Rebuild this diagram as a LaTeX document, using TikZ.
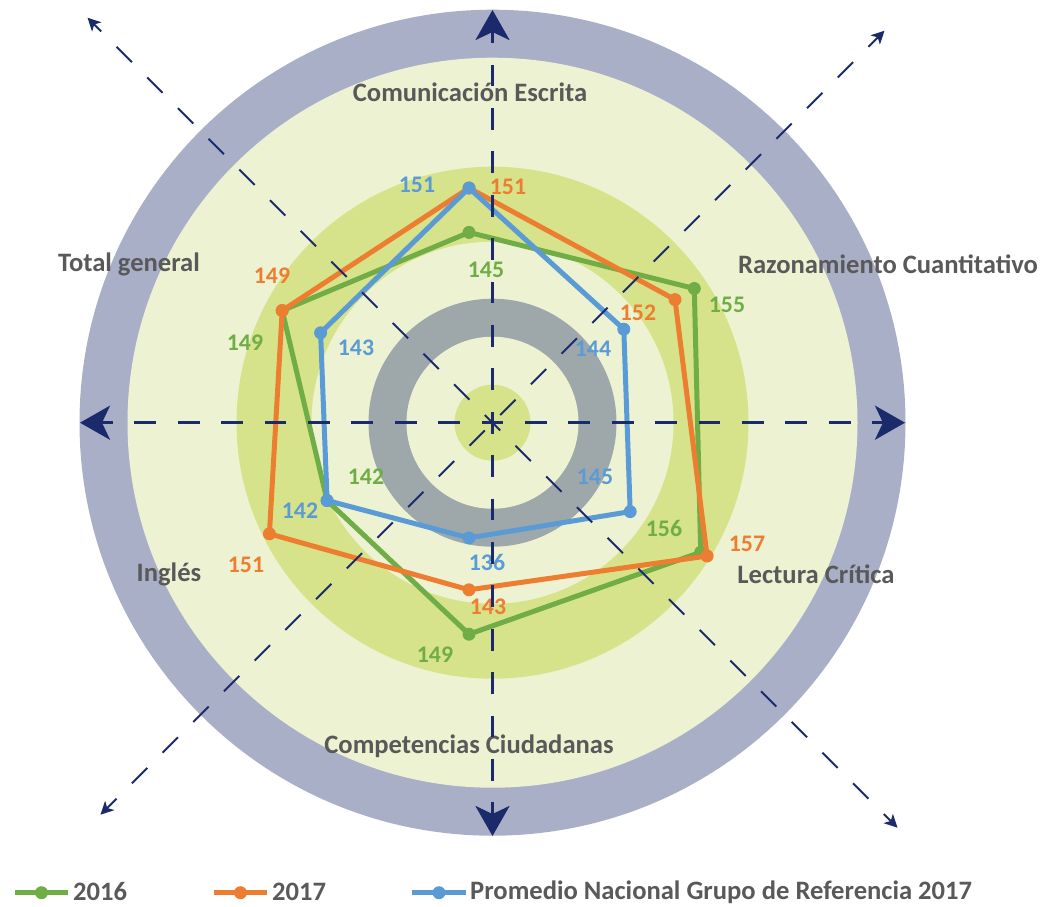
\documentclass[tikz,border=0pt]{standalone}
\usepackage{fontspec}
\setmainfont{Carlito}
\usetikzlibrary{arrows.meta}
\definecolor{lav}{HTML}{AAAFC8}
\definecolor{lgreen}{HTML}{EDF3D2}
\definecolor{mgreen}{HTML}{D7E38A}
\definecolor{ringgray}{HTML}{9EA8AA}
\definecolor{navy}{HTML}{1B2A6B}
\definecolor{txt}{HTML}{595959}
\definecolor{sgreen}{HTML}{70AD47}
\definecolor{sorange}{HTML}{ED7D31}
\definecolor{sblue}{HTML}{5B9BD5}
\tikzset{
  mainaxis/.style={navy, line width=3.3pt, dash pattern=on 21.7pt off 21.7pt, dash phase=10.85pt,
    -{Stealth[length=30pt,width=34pt,inset=8pt]}},
  diagA/.style={navy, line width=2pt, dash pattern=on 21.7pt off 21.7pt, dash phase=10.85pt,
    -{Stealth[length=13pt,width=13pt,inset=3.5pt]}},
  diagB/.style={navy, line width=2pt, dash pattern=on 21.7pt off 21.7pt, dash phase=32.55pt,
    -{Stealth[length=13pt,width=13pt,inset=3.5pt]}},
  series/.style={line width=5pt, line join=round},
  catlabel/.style={text=txt, font=\bfseries\fontsize{26.6}{32}\selectfont, inner sep=0pt},
  vallabel/.style={font=\bfseries\fontsize{23.8}{28}\selectfont, inner sep=0pt},
  leglabel/.style={text=txt, font=\bfseries\fontsize{26.6}{32}\selectfont, inner sep=0pt, anchor=west},
}
\begin{document}
\begin{tikzpicture}[x=1pt,y=-1pt]
\useasboundingbox (0,0) rectangle (1045,906);
\coordinate (O) at (492.5,422.7);
% background rings
\fill[lav] (O) circle (413pt);
\fill[lgreen] (O) circle (365pt);
\fill[mgreen] (O) circle (256pt);
\fill[lgreen] (O) circle (181pt);
\fill[ringgray] (O) circle (124pt);
\fill[lgreen] (O) circle (86pt);
\fill[mgreen] (O) circle (38pt);
% radar points
% 2016
\coordinate (gCE) at (469,232.4);
\coordinate (gRC) at (694.3,288.5);
\coordinate (gLC) at (700.7,552.2);
\coordinate (gCC) at (469,634.2);
\coordinate (gIN) at (327.1,500.5);
\coordinate (gTG) at (282.2,310.6);
% 2017
\coordinate (oCE) at (469,188.0);
\coordinate (oRC) at (675.0,299.6);
\coordinate (oLC) at (707.1,556.0);
\coordinate (oCC) at (469,589.8);
\coordinate (oIN) at (269.4,533.8);
\coordinate (oTG) at (282.2,310.6);
% promedio
\coordinate (bCE) at (469,188.0);
\coordinate (bRC) at (623.8,329.2);
\coordinate (bLC) at (630.2,511.6);
\coordinate (bCC) at (469,537.9);
\coordinate (bIN) at (327.1,500.5);
\coordinate (bTG) at (320.6,332.8);
\draw[series, sgreen] (gCE) -- (gRC) -- (gLC) -- (gCC) -- (gIN) -- (gTG) -- cycle;
\foreach \p in {gCE,gRC,gLC,gCC,gIN,gTG} \fill[sgreen] (\p) circle (6.5pt);
\draw[series, sorange] (oCE) -- (oRC) -- (oLC) -- (oCC) -- (oIN) -- (oTG) -- cycle;
\foreach \p in {oCE,oRC,oLC,oCC,oIN,oTG} \fill[sorange] (\p) circle (6.5pt);
\draw[series, sblue] (bCE) -- (bRC) -- (bLC) -- (bCC) -- (bIN) -- (bTG) -- cycle;
\foreach \p in {bCE,bRC,bLC,bCC,bIN,bTG} \fill[sblue] (\p) circle (6.5pt);
% value labels
\node[vallabel, text=sblue] (vb1) at (417,185) {151};
\node[vallabel, text=sorange] (vo1) at (508,187) {151};
\node[vallabel, text=sgreen] (vg1) at (486,270) {145};
\node[vallabel, text=sorange] (vo6) at (272,276) {149};
\node[vallabel, text=sgreen] (vg6) at (245,343) {149};
\node[vallabel, text=sblue] (vb6) at (356,348) {143};
\node[vallabel, text=sorange] (vo2) at (638,313) {152};
\node[vallabel, text=sgreen] (vg2) at (727,305) {155};
\node[vallabel, text=sblue] (vb2) at (593,349) {144};
\node[vallabel, text=sblue] (vb3) at (595,477) {145};
\node[vallabel, text=sgreen] (vg3) at (664,528) {156};
\node[vallabel, text=sorange] (vo3) at (747,544) {157};
\node[vallabel, text=sgreen] (vg5) at (366,477) {142};
\node[vallabel, text=sblue] (vb5) at (300,511) {142};
\node[vallabel, text=sorange] (vo5) at (246,565) {151};
\node[vallabel, text=sblue] (vb4) at (487,562) {136};
\node[vallabel, text=sorange] (vo4) at (488,607) {143};
\node[vallabel, text=sgreen] (vg4) at (435,655) {149};
% category labels
\node[catlabel] (cCE) at (470,92) {Comunicación Escrita};
\node[catlabel] (cRC) at (888,264) {Razonamiento Cuantitativo};
\node[catlabel] (cTG) at (129,264) {Total general};
\node[catlabel] (cLC) at (816,574) {Lectura Crítica};
\node[catlabel] (cIN) at (169,574) {Inglés};
\node[catlabel] (cCC) at (469,746) {Competencias Ciudadanas};
% axes
\coordinate (aL) at (80,422.7);
\coordinate (aR) at (905,422.7);
\coordinate (aT) at (492.5,10);
\coordinate (aB) at (492.5,836);
\coordinate (dTL) at (87.5,17.7);
\coordinate (dBR) at (897.5,827.7);
\coordinate (dTR) at (884.5,30.7);
\coordinate (dBL) at (100.5,814.7);
\draw[mainaxis] (O) -- (aL);
\draw[mainaxis] (O) -- (aR);
\draw[mainaxis] (O) -- (aT);
\draw[mainaxis] (O) -- (aB);
\draw[diagA] (O) -- (dTL);
\draw[diagA] (O) -- (dBR);
\draw[diagB] (O) -- (dTR);
\draw[diagB] (O) -- (dBL);
% legend
\coordinate (l1a) at (15,892.7); \coordinate (l1b) at (68,892.7); \coordinate (l1c) at (41.5,892.7);
\coordinate (l2a) at (214,892.7); \coordinate (l2b) at (267,892.7); \coordinate (l2c) at (240.5,892.7);
\coordinate (l3a) at (412,892.7); \coordinate (l3b) at (466,892.7); \coordinate (l3c) at (439,892.7);
\draw[series, sgreen] (l1a) -- (l1b); \fill[sgreen] (l1c) circle (6.5pt);
\draw[series, sorange] (l2a) -- (l2b); \fill[sorange] (l2c) circle (6.5pt);
\draw[series, sblue] (l3a) -- (l3b); \fill[sblue] (l3c) circle (6.5pt);
\node[leglabel] (t1) at (73,892) {2016};
\node[leglabel] (t2) at (272,892) {2017};
\node[leglabel] (t3) at (470,892) {Promedio Nacional Grupo de Referencia 2017};
\end{tikzpicture}
\end{document}
